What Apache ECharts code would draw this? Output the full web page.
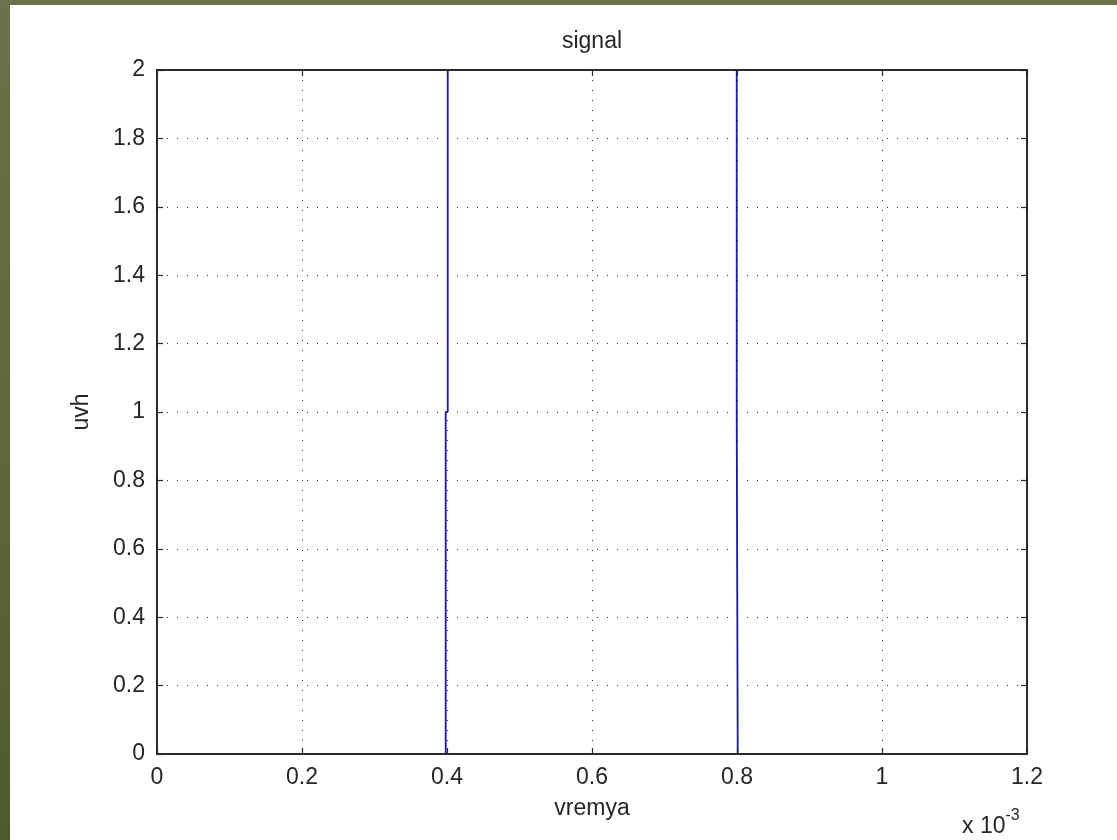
<!DOCTYPE html>
<html>
<head>
<meta charset="utf-8">
<title>signal</title>
<script src="https://cdn.jsdelivr.net/npm/echarts@6/dist/echarts.min.js"></script>
<style>
  html, body { margin: 0; padding: 0; width: 1117px; height: 840px; overflow: hidden;
    background: linear-gradient(180deg, #6b7148 0%, #5c6538 60%, #4f5a2b 100%); }
  #chart { position: absolute; left: 10px; top: 5px; width: 1107px; height: 835px; background: #ffffff; }
</style>
</head>
<body>
<div id="chart"></div>
<script>
// time axis in units of 1e-3 s (shown with the "x 10^-3" multiplier)
const xTicks = [0, 0.2, 0.4, 0.6, 0.8, 1, 1.2];
const yTicks = [0, 0.2, 0.4, 0.6, 0.8, 1, 1.2, 1.4, 1.6, 1.8, 2];

// signal samples: time (x 1e-3 s) and amplitude
const vremya = [0, 0.3982, 0.3982, 0.4010, 0.4010, 0.7996, 0.7996, 0.8010, 0.8010, 1.2];
const uvh    = [0, 0,      1,      1,      2,      2,      1,      1,      0,      0  ];

const signalData = vremya.map((t, i) => [t, uvh[i]]);

const chart = echarts.init(document.getElementById('chart'), null, { renderer: 'canvas' });

const FONT = 'Liberation Sans, Arial, sans-serif';
const TXT = '#262626';
const AX = '#2a2a2a';
const GRID = { left: 147, top: 65, right: 90, bottom: 86 };
const plotCx = GRID.left + (1107 - GRID.left - GRID.right) / 2;

const dotted = { show: true, lineStyle: { color: '#333333', width: 1, type: [1, 9] } };
const frameLine = { show: true, onZero: false, lineStyle: { color: AX, width: 2 } };
const innerTick = { show: true, inside: true, length: 6, lineStyle: { color: AX, width: 1.2 } };

chart.setOption({
  animation: false,
  backgroundColor: '#ffffff',
  grid: GRID,
  xAxis: [
    {
      type: 'value', position: 'bottom', min: xTicks[0], max: xTicks[xTicks.length - 1], interval: 0.2,
      z: 5, axisLine: frameLine, axisTick: innerTick,
      axisLabel: { show: true, margin: 12, color: TXT, fontFamily: FONT, fontSize: 23 },
      splitLine: dotted
    },
    {
      type: 'value', position: 'top', min: xTicks[0], max: xTicks[xTicks.length - 1], interval: 0.2,
      z: 5, axisLine: frameLine, axisTick: innerTick,
      axisLabel: { show: false },
      splitLine: { show: false }
    }
  ],
  yAxis: [
    {
      type: 'value', position: 'left', min: yTicks[0], max: yTicks[yTicks.length - 1], interval: 0.2,
      z: 5, axisLine: frameLine, axisTick: innerTick,
      axisLabel: { show: true, margin: 12, color: TXT, fontFamily: FONT, fontSize: 23 },
      splitLine: dotted
    },
    {
      type: 'value', position: 'right', min: yTicks[0], max: yTicks[yTicks.length - 1], interval: 0.2,
      z: 5, axisLine: frameLine, axisTick: innerTick,
      axisLabel: { show: false },
      splitLine: { show: false }
    }
  ],
  series: [
    {
      type: 'line',
      name: 'signal',
      xAxisIndex: 0,
      yAxisIndex: 0,
      data: signalData,
      showSymbol: false,
      z: 2,
      lineStyle: { color: '#1818a0', width: 1.8 }
    }
  ],
  graphic: [
    {
      type: 'text', z: 10, x: plotCx, y: 37,
      style: { text: 'signal', textAlign: 'center', textVerticalAlign: 'middle',
               fill: TXT, font: '23px ' + FONT }
    },
    {
      type: 'text', z: 10, x: plotCx, y: 804,
      style: { text: 'vremya', textAlign: 'center', textVerticalAlign: 'middle',
               fill: TXT, font: '23px ' + FONT }
    },
    {
      type: 'text', z: 10, x: 72, y: 407, rotation: Math.PI / 2,
      style: { text: 'uvh', textAlign: 'center', textVerticalAlign: 'middle',
               fill: TXT, font: '23px ' + FONT }
    },
    {
      type: 'text', z: 10, x: 952, y: 818,
      style: {
        text: '{a|x 10}{b|-3}', textAlign: 'left', textVerticalAlign: 'middle',
        rich: {
          a: { fontFamily: FONT, fontSize: 23, fill: TXT, color: TXT, verticalAlign: 'bottom', lineHeight: 30 },
          b: { fontFamily: FONT, fontSize: 16, fill: TXT, color: TXT, verticalAlign: 'top', lineHeight: 30 }
        }
      }
    }
  ]
});
</script>
</body>
</html>
